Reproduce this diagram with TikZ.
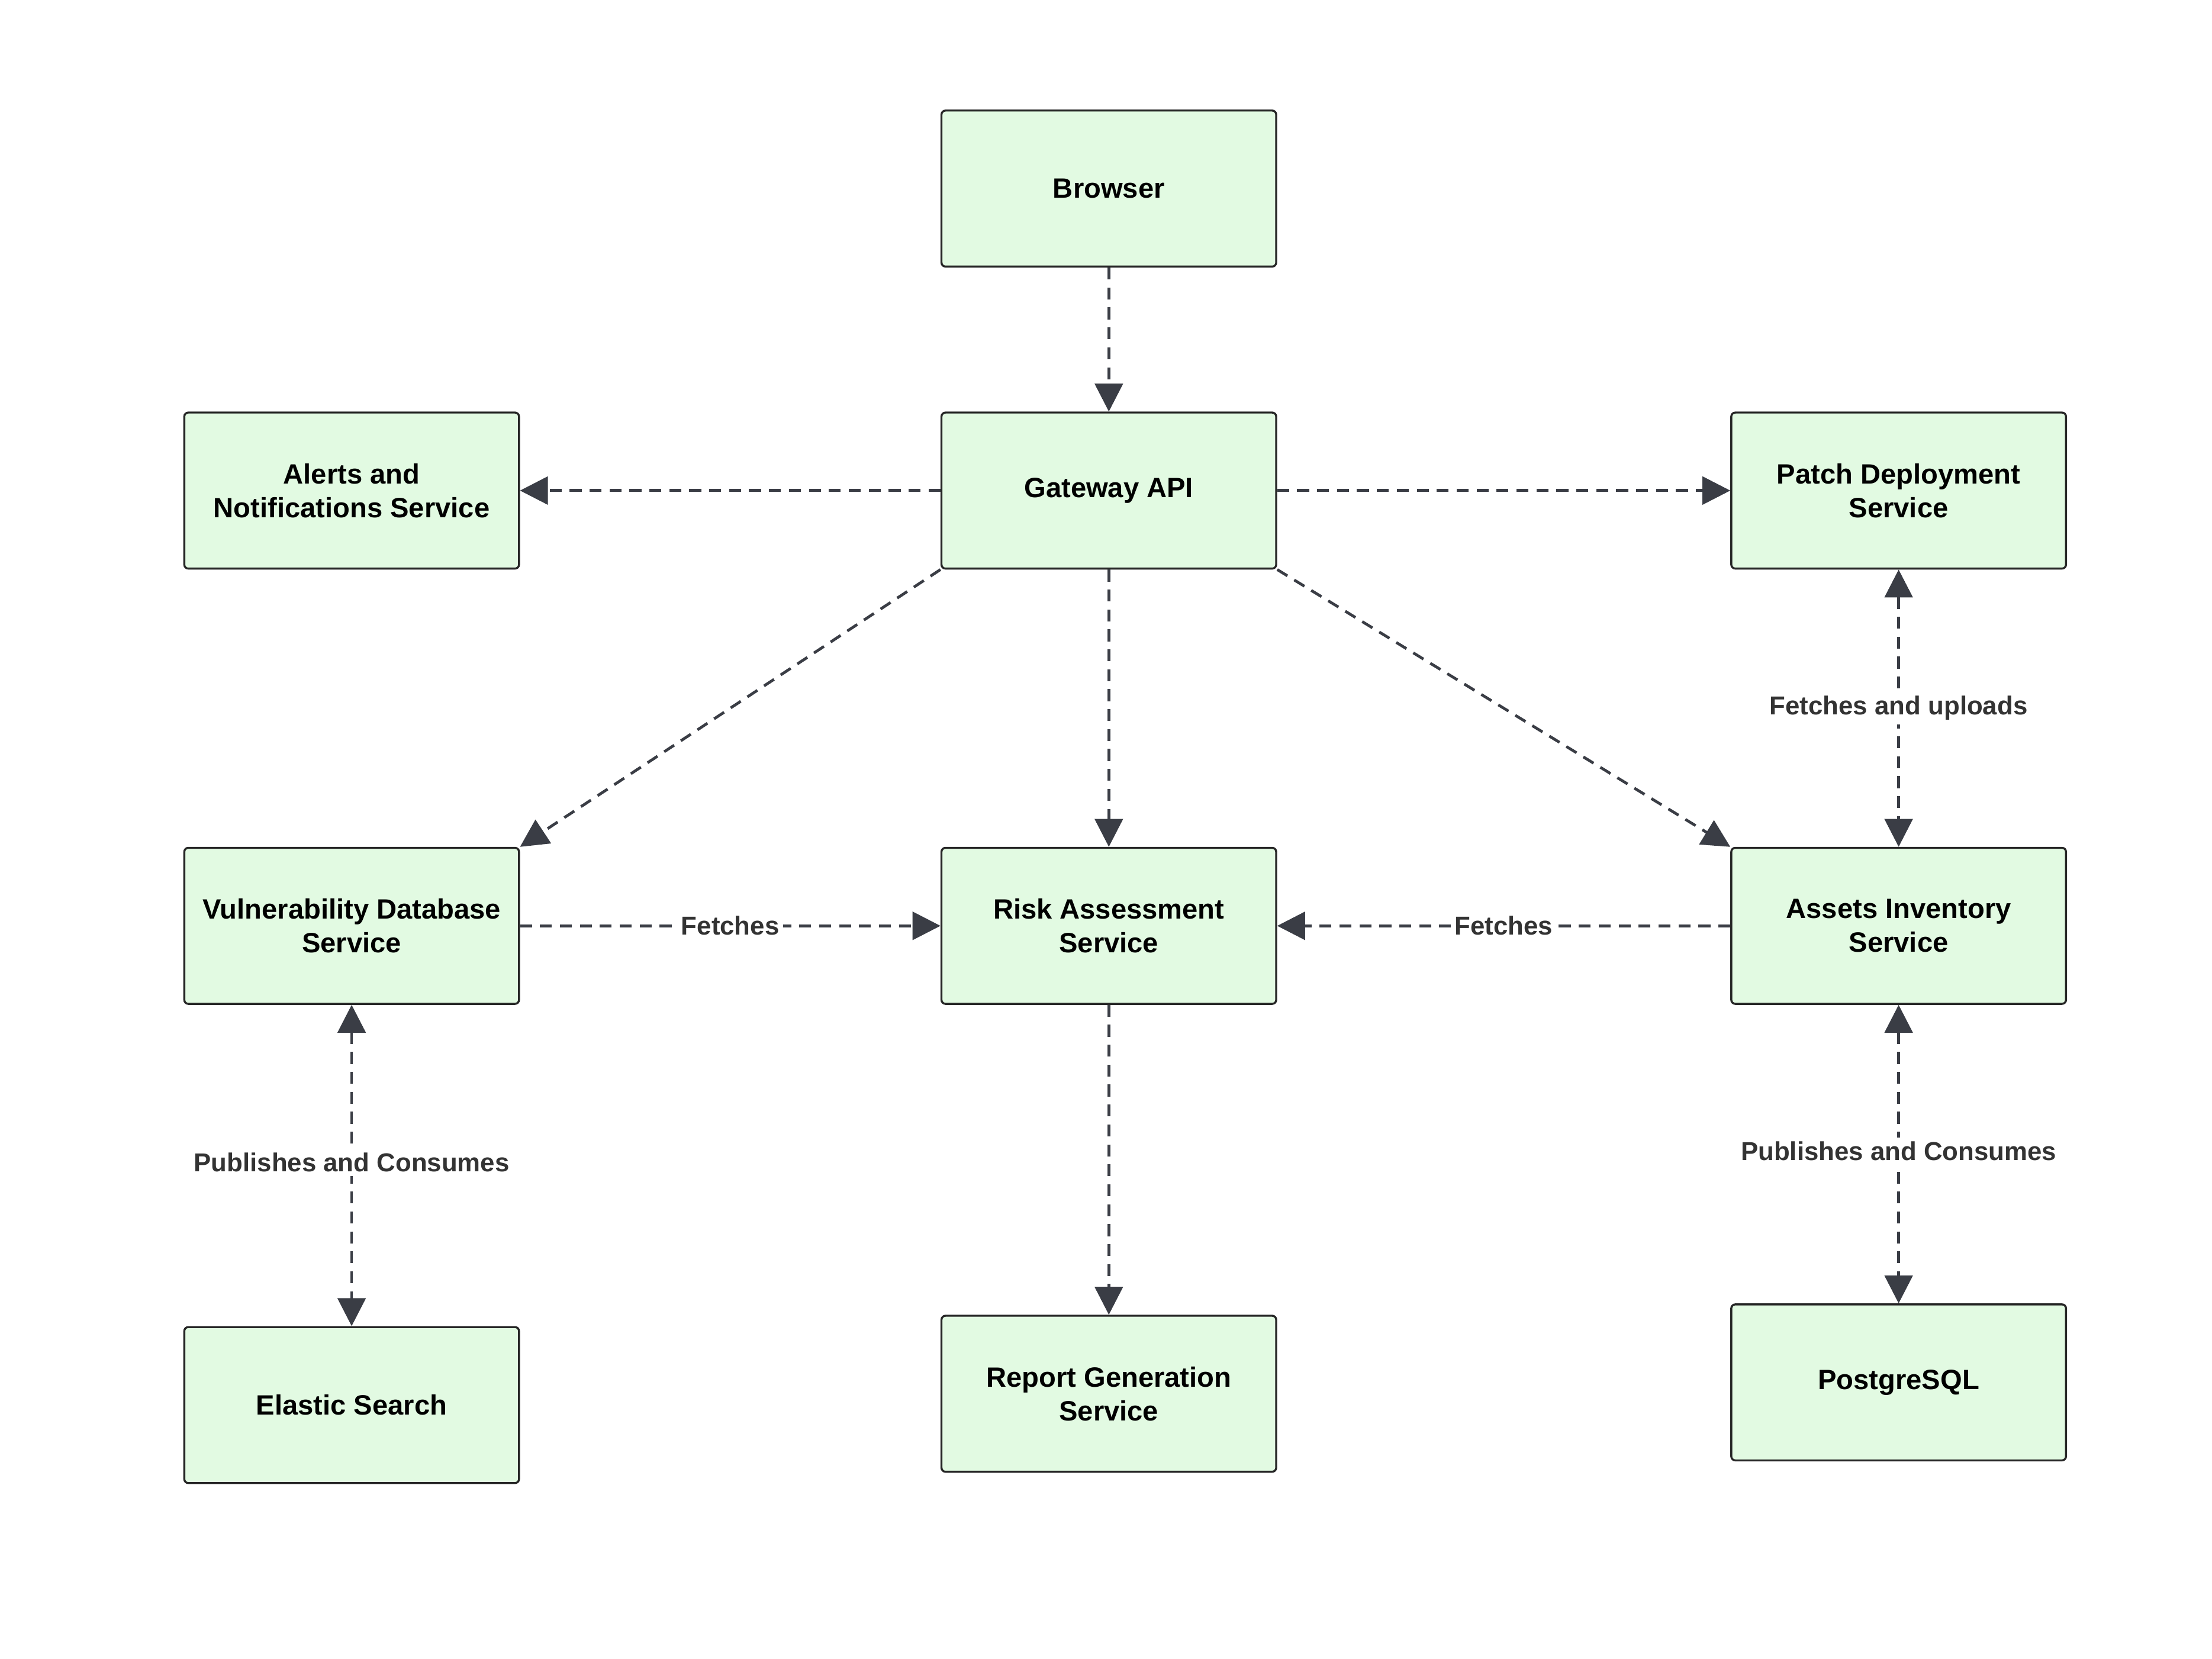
\documentclass[tikz,border=0pt]{standalone}
\usepackage{fontspec}
\setmainfont{Liberation Sans}
\usetikzlibrary{arrows.meta,positioning}
\definecolor{boxfill}{HTML}{E2FAE2}
\definecolor{linegray}{HTML}{3A3D45}
\definecolor{labelgray}{HTML}{333333}
\tikzset{
  svc/.style={rectangle,rounded corners=2pt,draw=black!85,line width=1pt,fill=boxfill,
    minimum width=5.9cm,minimum height=2.75cm,align=center,font=\fontsize{14}{17}\selectfont\bfseries},
  link/.style={dashed,dash pattern=on 6pt off 4pt,line width=1.4pt,draw=linegray,
    -{Triangle[length=14pt,width=14pt]}},
  both/.style={link,{Triangle[length=14pt,width=14pt]}-{Triangle[length=14pt,width=14pt]}},
  lbl/.style={fill=white,inner sep=2pt,text=labelgray,font=\fontsize{13}{15}\selectfont\bfseries}
}
\begin{document}
\begin{tikzpicture}[x=0.025cm,y=-0.025cm]
  \useasboundingbox (0,0) rectangle (1560,1170);
    % services
    \node[svc] (browser) at (782,133) {Browser};
    \node[svc] (gateway) at (782,346) {Gateway API};
    \node[svc] (alerts) at (248,346) {Alerts and\\Notifications Service};
    \node[svc] (patch) at (1339,346) {Patch Deployment\\Service};
    \node[svc] (vuln) at (248,653) {Vulnerability Database\\Service};
    \node[svc] (risk) at (782,653) {Risk Assessment\\Service};
    \node[svc] (assets) at (1339,653) {Assets Inventory\\Service};
    \node[svc] (elastic) at (248,991) {Elastic Search};
    \node[svc] (report) at (782,983) {Report Generation\\Service};
    \node[svc] (postgres) at (1339,975) {PostgreSQL};

    % gateway links
    \draw[link] (browser) -- (gateway);
    \draw[link] (gateway) -- (alerts);
    \draw[link] (gateway) -- (patch);
    \draw[link] (gateway) -- (risk);
    \draw[link] (gateway.south west) -- (vuln.north east);
    \draw[link] (gateway.south east) -- (assets.north west);

    % data links
    \draw[link] (vuln) -- node[lbl] {Fetches} (risk);
    \draw[link] (assets) -- node[lbl] {Fetches} (risk);
    \draw[link] (risk) -- (report);
    \draw[both] (patch) -- node[lbl] {Fetches and uploads} (assets);
    \draw[both] (vuln) -- node[lbl,pos=0.49] {Publishes and Consumes} (elastic);
    \draw[both] (assets) -- node[lbl,pos=0.49] {Publishes and Consumes} (postgres);
\end{tikzpicture}
\end{document}
